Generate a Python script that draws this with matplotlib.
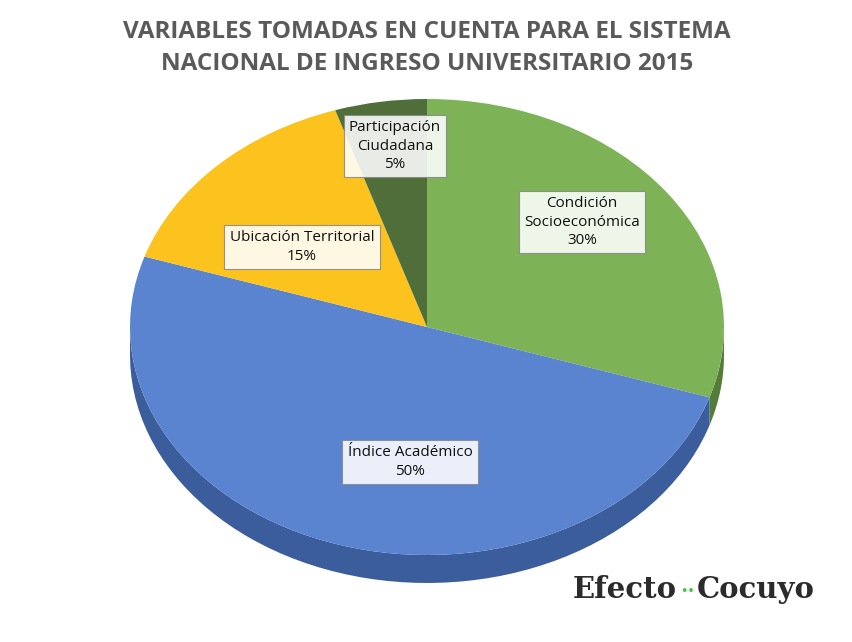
import numpy as np
import matplotlib
matplotlib.use("Agg")
import matplotlib.pyplot as plt
from matplotlib.patches import Wedge, Polygon
from matplotlib.transforms import Affine2D

labels = ["Condición\nSocioeconómica", "Índice Académico", "Ubicación Territorial", "Participación\nCiudadana"]
values = [30, 50, 15, 5]
colours = ["#7db356", "#5a84cf", "#fcc21d", "#4f6e3a"]
side_colours = ["#557d3a", "#3b5d9b", "#c99400", "#3a522a"]
label_pos = [(582, 222), (410, 462), (302, 247), (395, 146)]

CX, CY, RX, RY, DEPTH = 427, 327, 297, 228, 28

fig = plt.figure(figsize=(8.53, 6.42), dpi=100)
ax = fig.add_axes([0, 0, 1, 1])
ax.set_xlim(0, 853)
ax.set_ylim(642, 0)
ax.axis("off")

tr = Affine2D().scale(RX, -RY).translate(CX, CY) + ax.transData

# wedge angles, clockwise from 12 o'clock
bounds = [90.0]
for v in values:
    bounds.append(bounds[-1] - v * 3.6)

# side (depth) for the front half, angles -180..0
for i in range(len(values)):
    hi, lo = bounds[i], bounds[i + 1]
    for b0, b1 in [(max(lo, -180), min(hi, 0)), (max(lo + 360, -180), min(hi + 360, 0))]:
        if b1 > b0:
            t = np.radians(np.linspace(b0, b1, 60))
            x = CX + RX * np.cos(t)
            y = CY - RY * np.sin(t)
            pts = np.column_stack([np.r_[x, x[::-1]], np.r_[y, y[::-1] + DEPTH]])
            ax.add_patch(Polygon(pts, closed=True, fc=side_colours[i], ec="none", zorder=1))

for i in range(len(values)):
    ax.add_patch(Wedge((0, 0), 1, bounds[i + 1], bounds[i], fc=colours[i],
                       ec="none", transform=tr, zorder=2))

for lab, v, (x, y) in zip(labels, values, label_pos):
    ax.text(x, y, f"{lab}\n{v}%", ha="center", va="center", fontsize=11,
            family="Open Sans", color="#111111", zorder=5, linespacing=1.3,
            bbox=dict(boxstyle="square,pad=0.35", fc="white", ec="#888888",
                      lw=0.8, alpha=0.88))

ax.text(427, 48, "VARIABLES TOMADAS EN CUENTA PARA EL SISTEMA\nNACIONAL DE INGRESO UNIVERSITARIO 2015",
        ha="center", va="center", fontsize=17.5, fontweight="bold",
        family="Open Sans", color="#5a5a5a", linespacing=1.4)

ax.text(573, 590, "Efecto", ha="left", va="center", fontsize=21,
        fontweight="bold", family="DejaVu Serif", color="#2b2b2b")
ax.text(688, 592, "••", ha="center", va="center", fontsize=9, color="#3cc83c")
ax.text(697, 590, "Cocuyo", ha="left", va="center", fontsize=21,
        fontweight="bold", family="DejaVu Serif", color="#2b2b2b")

fig.savefig("out.png", dpi=100)
